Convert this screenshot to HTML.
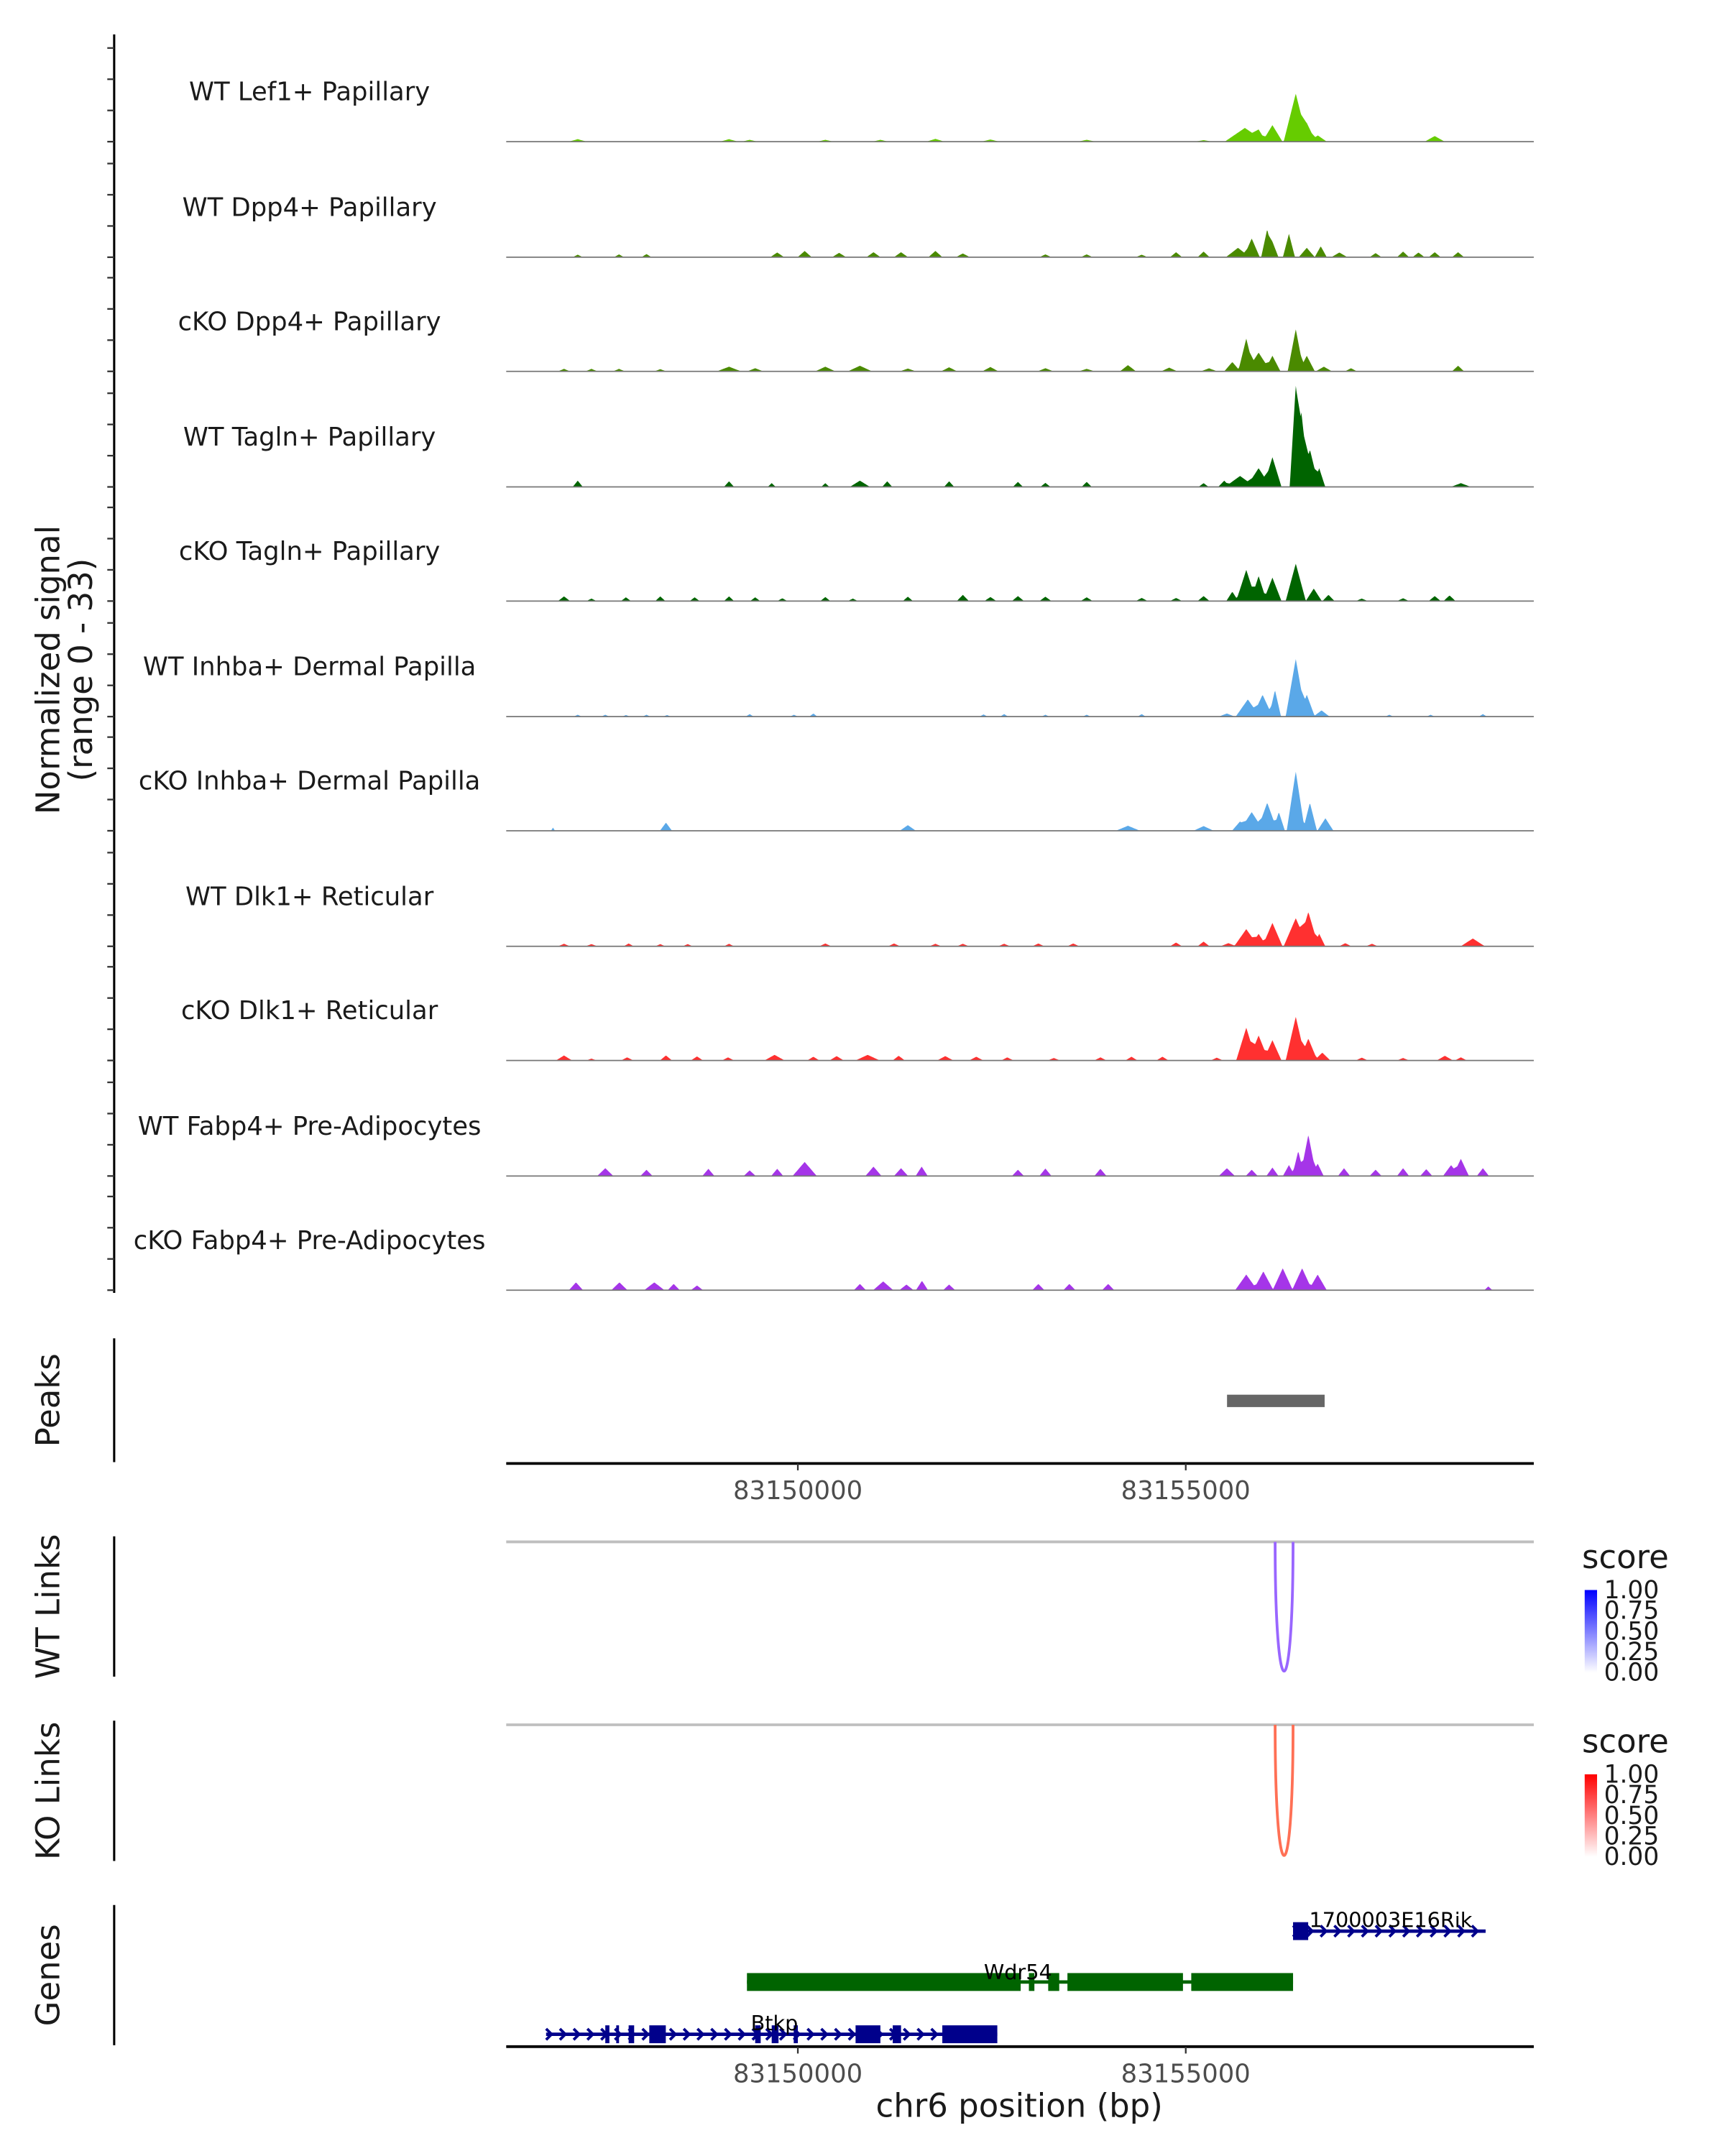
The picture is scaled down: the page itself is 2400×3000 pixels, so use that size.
<!DOCTYPE html>
<html><head><meta charset="utf-8"><style>
html,body{margin:0;padding:0;background:#fff;}
svg{display:block;font-family:"DejaVu Sans","Liberation Sans",sans-serif;}
</style></head><body>
<svg id="chart" width="2400" height="3000" viewBox="0 0 1254 1567.5" xmlns="http://www.w3.org/2000/svg">
<g id="tracks"></g>
<g id="axes"></g>
</svg>
<script>
// ---- data ----
const regionStart = 83146241, regionEnd = 83159486;
const xTicks = [83150000, 83155000];
const xTickLabels = ["83150000", "83155000"];
const trackNames = ["WT Lef1+ Papillary","WT Dpp4+ Papillary","cKO Dpp4+ Papillary","WT Tagln+ Papillary","cKO Tagln+ Papillary","WT Inhba+ Dermal Papilla","cKO Inhba+ Dermal Papilla","WT Dlk1+ Reticular","cKO Dlk1+ Reticular","WT Fabp4+ Pre-Adipocytes","cKO Fabp4+ Pre-Adipocytes"];
const trackColors = ["#66cc00","#4a8a00","#4a8a00","#006400","#006400","#5aa8e8","#5aa8e8","#ff3030","#ff3030","#a535e8","#a535e8"];
const yTickValues = [0,10,20,30];
// peaks: [center bp, height (0-33), half-width bp]
const peaksLef1 = [[83147163,0.8,90],[83149113,0.8,90],[83149379,0.6,80],[83150354,0.6,80],[83151064,0.6,80],[83151773,0.9,90],[83152482,0.7,90],[83153723,0.6,90],[83155230,0.5,90],[83155762,4.4,200],[83155939,3.5,80],[83156117,5.3,100],[83156418,15.4,120],[83156560,6,90],[83156702,2,90],[83158209,1.8,100]];
const peaksWTDpp4 = [[83147163,0.8,50],[83147695,0.9,50],[83148049,1,50],[83149734,1.5,70],[83150088,2,70],[83150532,1.4,70],[83150975,1.6,70],[83151330,1.6,70],[83151773,2,70],[83152127,1.2,70],[83153191,0.9,60],[83153723,0.9,60],[83154432,0.8,60],[83154875,1.6,60],[83155230,1.8,60],[83155673,3,120],[83155850,6,80],[83156050,9,60],[83156117,5,60],[83156330,7.5,60],[83156560,3,80],[83156740,3.5,60],[83156980,1.5,80],[83157447,1.3,60],[83157801,1.8,60],[83158000,1.5,60],[83158209,1.6,60],[83158510,1.6,60]];
const peaksKODpp4 = [[83146986,0.8,60],[83147340,0.8,60],[83147695,0.8,60],[83148227,0.7,60],[83149113,1.5,120],[83149450,1,80],[83150354,1.5,100],[83150800,1.8,120],[83151418,0.9,80],[83151950,1.3,80],[83152482,1.4,80],[83153191,1,80],[83153723,0.8,80],[83154255,2,80],[83154787,1.2,80],[83155300,1,80],[83155600,3,80],[83155780,10.5,80],[83155939,6,120],[83156117,5,80],[83156418,13.5,80],[83156560,5,80],[83156780,1.5,80],[83157130,1,60],[83158510,1.8,60]];
const peaksWTTagln = [[83147163,2,50],[83149113,1.8,50],[83149663,1.2,40],[83150354,1.2,40],[83150800,2,100],[83151152,1.8,50],[83151950,1.8,50],[83152837,1.6,50],[83153191,1.3,50],[83153723,1.6,50],[83155230,1.2,50],[83155496,2,60],[83155700,3.5,150],[83155939,6,120],[83156117,9.5,90],[83156418,32.6,60],[83156490,24,80],[83156600,12,90],[83156720,6,60],[83158546,1.2,100]];
const peaksKOTagln = [[83146986,1.5,60],[83147340,0.8,50],[83147784,1.2,50],[83148227,1.5,50],[83148670,1.2,50],[83149113,1.5,50],[83149450,1.2,50],[83149800,0.9,50],[83150354,1.3,50],[83150709,0.8,50],[83151418,1.4,50],[83152127,2,60],[83152482,1.3,60],[83152837,1.6,60],[83153191,1.4,60],[83153723,1.2,60],[83154432,1,60],[83154875,1,60],[83155230,1.6,60],[83155600,3,60],[83155780,10,100],[83155939,8,80],[83156117,7.5,90],[83156418,12,100],[83156650,4,80],[83156840,2,60],[83157269,0.8,60],[83157801,0.9,60],[83158209,1.6,60],[83158400,1.8,60]];
const peaksWTInhba = [[83147163,0.6,40],[83147518,0.6,40],[83147784,0.5,40],[83148049,0.6,40],[83148315,0.5,40],[83149379,0.8,40],[83149950,0.6,40],[83150200,1,40],[83152393,0.7,40],[83152659,0.8,40],[83153191,0.6,40],[83153723,0.6,40],[83154432,0.8,40],[83155530,1,80],[83155800,5.5,120],[83155990,7,100],[83156150,8.5,60],[83156418,18.5,100],[83156560,7,80],[83156750,2,80],[83157624,0.6,40],[83158156,0.6,40],[83158830,0.8,40]];
const peaksKOInhba = [[83146844,1,20],[83148300,2.6,60],[83151418,1.8,80],[83154255,1.6,120],[83155230,1.5,100],[83155700,3,80],[83155850,6,120],[83156050,9,100],[83156200,6,60],[83156418,19,90],[83156600,9,70],[83156800,4,80]];
const peaksWTDlk1 = [[83146986,0.8,60],[83147340,0.7,60],[83147820,0.9,50],[83148227,0.7,50],[83148580,0.7,50],[83149113,0.8,50],[83150354,0.9,60],[83151240,0.9,60],[83151773,0.8,60],[83152127,0.8,60],[83152659,0.8,60],[83153100,0.9,60],[83153550,0.9,60],[83154875,1.2,60],[83155230,1.5,60],[83155550,1,80],[83155780,5.5,120],[83155939,4,80],[83156117,7.5,100],[83156418,9,120],[83156580,11,100],[83156720,4,60],[83157056,1,60],[83157400,0.8,60],[83158700,2.5,120]];
const peaksKODlk1 = [[83146986,1.6,80],[83147340,0.6,50],[83147800,1,60],[83148300,1.6,60],[83148700,1.3,60],[83149100,1,60],[83149700,1.8,100],[83150200,1.2,60],[83150500,1.4,70],[83150900,1.8,120],[83151300,1.5,60],[83151900,1.4,80],[83152300,1.2,70],[83152700,1,60],[83153300,0.8,60],[83153900,1,60],[83154300,1.2,60],[83154700,1.2,60],[83155400,0.9,60],[83155780,10.5,100],[83155939,8,100],[83156117,6.5,90],[83156418,14,100],[83156580,7,90],[83156760,2.5,80],[83157269,0.9,60],[83157801,0.8,60],[83158340,1.5,80],[83158546,1,60]];
const peaksWTFabp4 = [[83147518,2.5,80],[83148049,2,60],[83148847,2.3,60],[83149379,1.8,60],[83149734,2.3,60],[83150088,4.5,120],[83150975,3,80],[83151330,2.5,70],[83151596,3,60],[83152837,2,60],[83153191,2.4,60],[83153900,2.3,60],[83155530,2.5,80],[83155850,2,60],[83156117,2.7,60],[83156330,3.5,60],[83156450,8,60],[83156580,13.2,80],[83156700,4,60],[83157040,2.5,60],[83157447,2,60],[83157801,2.5,60],[83158100,2.2,60],[83158420,3.5,80],[83158546,5.5,80],[83158830,2.5,60]];
const peaksKOFabp4 = [[83147140,2.5,70],[83147700,2.5,80],[83148150,2.5,100],[83148400,2,60],[83148700,1.5,60],[83150800,2,60],[83151100,2.8,100],[83151400,1.8,70],[83151600,3,60],[83151950,1.8,60],[83153100,2,60],[83153500,2,60],[83154000,2,60],[83155780,5,110],[83156000,6,100],[83156250,7,100],[83156500,7,100],[83156700,5,90],[83158900,1.2,40]];
const trackPeaks = [peaksLef1,peaksWTDpp4,peaksKODpp4,peaksWTTagln,peaksKOTagln,peaksWTInhba,peaksKOInhba,peaksWTDlk1,peaksKODlk1,peaksWTFabp4,peaksKOFabp4];
const peakRegions = [[83155532,83156790]];
const wtLinks = [[83156152,83156383,0.55]];
const koLinks = [[83156152,83156383,0.55]];
const legendTicks = ["1.00","0.75","0.50","0.25","0.00"];
const btkpExons = [[83147518,83147571],[83147659,83147695],[83147819,83147890],[83148085,83148298],[83149450,83149521],[83149663,83149751],[83149947,83150000],[83150744,83151064],[83151223,83151330],[83151862,83152571]];
const btkpSpan = [83146755,83152571];
const wdr54Exons = [[83149344,83152872],[83152978,83153049],[83153227,83153369],[83153475,83154964],[83155071,83156383]];
const wdr54Span = [83149344,83156383];
const rikExons = [[83156383,83156578]];
const rikSpan = [83156383,83158865];

// ---- drawing ----
const NS="http://www.w3.org/2000/svg";
const X0=368, X1=1115;
const xs = bp => X0 + (bp-regionStart)/(regionEnd-regionStart)*(X1-X0);
const bs = x => regionStart + (x-X0)/(X1-X0)*(regionEnd-regionStart);
const UNIT = 2.27;
function mk(tag, attrs, parent){const e=document.createElementNS(NS,tag);for(const k in attrs)e.setAttribute(k,attrs[k]);parent.appendChild(e);return e;}
const tracksG=document.getElementById('tracks'), axesG=document.getElementById('axes');
const baselines=[103,187,270,354,437,521,604,688,771,855,938];

let a=mk('line',{x1:83,y1:25,x2:83,y2:940,stroke:'#000','stroke-width':1.6},axesG);


trackNames.forEach((name,i)=>{
  const b=baselines[i];
  yTickValues.forEach(v=>{
    const t=mk('line',{x1:78,x2:83,y1:b-v*UNIT,y2:b-v*UNIT,stroke:'#333','stroke-width':1.2},axesG);
    
    
  });
  const g=mk('g',{},tracksG);
  
  
  const peaks=trackPeaks[i];
  let pts=[[X0,b]];
  for(let x=X0;x<=X1;x+=0.5){
    const bp=bs(x);let v=0,s=0;
    peaks.forEach(p=>{const d=Math.abs(bp-p[0]);if(d<p[2]*1.3){const c=p[1]*Math.max(0,1-d/(p[2]*1.3));v=Math.max(v,c);s+=c;}});
    v=Math.min(Math.max(v, s*0.8), 33);
    pts.push([x,b-v*UNIT]);
  }
  pts.push([X1,b]);
  const poly=mk('polygon',{points:pts.map(p=>p[0].toFixed(1)+','+p[1].toFixed(2)).join(' '),fill:trackColors[i]},g);
  
  
  const bl=mk('line',{x1:X0,x2:X1,y1:b,y2:b,stroke:'#777','stroke-width':0.9},g);
  
  
  const lab=mk('text',{x:225,y:b-30,'text-anchor':'middle','font-size':18.5,fill:'#1a1a1a'},g);
  lab.textContent=name;
  
  
});
function ytitle(lines,x,y,name){
  const t=mk('text',{transform:`translate(${x},${y}) rotate(-90)`,'text-anchor':'middle','font-size':23.5,fill:'#1a1a1a'},axesG);
  lines.forEach((l,k)=>{const s=mk('tspan',{x:0,dy:k?24:0},t);s.textContent=l;});
  
  
}
ytitle(["Normalized signal","(range 0 - 33)"],43,487,'y-axis-title');
ytitle(["Peaks"],43,1018,'peaks-title');
ytitle(["WT Links"],43,1168,'wt-links-title');
ytitle(["KO Links"],43,1302,'ko-links-title');
ytitle(["Genes"],43,1436,'genes-title');
function vline(y1,y2,name){const l=mk('line',{x1:83,x2:83,y1,y2,stroke:'#000','stroke-width':1.6},axesG);}
vline(973,1063,'peaks-axis');vline(1117,1219,'wt-links-axis');vline(1251,1353,'ko-links-axis');vline(1385,1487,'genes-axis');
function xaxis(y,name){
  const g=mk('g',{},axesG);
  mk('line',{x1:X0,x2:X1,y1:y,y2:y,stroke:'#000','stroke-width':2},g);
  xTicks.forEach((v,k)=>{
    mk('line',{x1:xs(v),x2:xs(v),y1:y,y2:y+5,stroke:'#333','stroke-width':1.2},g);
    const t=mk('text',{x:xs(v),y:y+26,'text-anchor':'middle','font-size':18.5,fill:'#4d4d4d'},g);t.textContent=xTickLabels[k];
    
    
  });
}
peakRegions.forEach(p=>{const r=mk('rect',{x:xs(p[0]),y:1014,width:xs(p[1])-xs(p[0]),height:9,fill:'#666'},tracksG);});
xaxis(1064,'peaks-x-axis');
function links(data,y0,depth,color,name){
  const l=mk('line',{x1:X0,x2:X1,y1:y0,y2:y0,stroke:'#bfbfbf','stroke-width':2},tracksG);
  
  data.forEach(d=>{
    const x1=xs(d[0]),x2=xs(d[1]),cy=y0+depth/0.75;
    const p=mk('path',{d:`M${x1},${y0} C${x1},${cy} ${x2},${cy} ${x2},${y0}`,fill:'none',stroke:color,'stroke-width':2},tracksG);
    
  });
}
links(wtLinks,1121,94,'#9966ff','wt-link');
links(koLinks,1254,95,'#ff7055','ko-link');
function legend(y,c,name){
  const g=mk('g',{},axesG);
  const t=mk('text',{x:1150,y:y,'font-size':23.5,fill:'#1a1a1a'},g);t.textContent='score';
  const id='grad'+name;
  const defs=mk('defs',{},g);const gr=mk('linearGradient',{id,x1:0,y1:1,x2:0,y2:0},defs);
  mk('stop',{offset:0,'stop-color':'#ffffff'},gr);mk('stop',{offset:1,'stop-color':c},gr);
  mk('rect',{x:1152,y:y+16,width:9,height:60,fill:`url(#${id})`},g);
  legendTicks.forEach((l,k)=>{const tt=mk('text',{x:1166,y:y+22+k*15,'font-size':18,fill:'#1a1a1a'},g);tt.textContent=l;});
}
legend(1140,'#0000ff','wt-legend');legend(1274,'#ff0000','ko-legend');
function gene(span,exons,y,color,label,lx,ly,dir,name){
  const g=mk('g',{},tracksG);
  mk('line',{x1:xs(span[0]),x2:xs(span[1]),y1:y,y2:y,stroke:color,'stroke-width':2.5},g);
  if(dir){for(let x=xs(span[0])+3;x<xs(span[1]);x+=10){mk('path',{d:`M${x-3},${y-4} L${x+1},${y} L${x-3},${y+4}`,fill:'none',stroke:color,'stroke-width':2},g);}}
  exons.forEach(e=>mk('rect',{x:xs(e[0]),y:y-6.5,width:Math.max(2,xs(e[1])-xs(e[0])),height:13,fill:color},g));
  const t=mk('text',{x:lx,y:ly,'text-anchor':'middle','font-size':15,fill:'#000'},g);t.textContent=label;
}
gene(rikSpan,rikExons,1404,'#00008b','1700003E16Rik',1011,1401,true,'gene-1700003E16Rik');
gene(wdr54Span,wdr54Exons,1441,'#006400','Wdr54',740,1439,false,'gene-Wdr54');
gene(btkpSpan,btkpExons,1479,'#00008b','Btkp',563,1476,true,'gene-Btkp');
xaxis(1488,'genes-x-axis');
const xl=mk('text',{x:741,y:1539,'text-anchor':'middle','font-size':23.5,fill:'#1a1a1a'},axesG);xl.textContent='chr6 position (bp)';


</script>
</body></html>
